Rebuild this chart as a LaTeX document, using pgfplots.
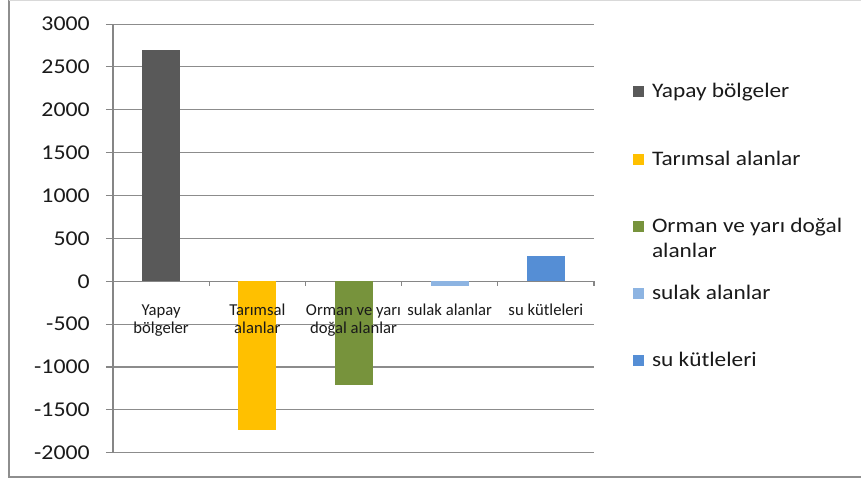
\documentclass[border=0pt]{standalone}
\usepackage{fontspec}
\setmainfont{Carlito}[FakeStretch=1.13]
\newfontfamily\catfont{Carlito}
\usepackage{pgfplots}
\pgfplotsset{compat=1.18}

\definecolor{cBuilt}{HTML}{595959}
\definecolor{cAgri}{HTML}{FFC000}
\definecolor{cForest}{HTML}{77933C}
\definecolor{cWet}{HTML}{8DB4E2}
\definecolor{cWater}{HTML}{558ED5}
\definecolor{gridgray}{HTML}{8C8C8C}
\definecolor{axisgray}{HTML}{868686}
\definecolor{txt}{HTML}{1A1A1A}
\definecolor{framegray}{HTML}{8E8E8E}

\begin{document}
\begin{tikzpicture}
\useasboundingbox (0,0) rectangle (645.75pt,360.75pt);
\draw[framegray, line width=1pt] (6.75pt,360.75pt) -- (6.75pt,3pt) -- (645.75pt,3pt);
\draw[gray!30, line width=0.6pt] (6.75pt,360.45pt) -- (645.75pt,360.45pt);
\begin{axis}[
  at={(84.75pt,21.2pt)}, anchor=south west,
  scale only axis, width=360.75pt, height=321.5pt,
  xmin=-0.5, xmax=4.5, ymin=-2000, ymax=3000,
  axis x line=middle, axis y line=left,
  axis line style={-, draw=axisgray, line width=0.8pt},
  ytick={-2000,-1500,...,3000},
  ymajorgrids, grid style={gridgray, line width=0.8pt},
  y tick style={draw=axisgray, line width=0.8pt},
  tick align=outside, major tick length=5.25pt,
  yticklabel style={font=\fontsize{15.8}{18}\selectfont, text=txt, anchor=east, inner sep=0pt, xshift=-12pt},
  /pgf/number format/1000 sep={}, /pgf/number format/assume math mode=true,
  scaled y ticks=false,
  xtick={0,...,4}, x tick style={draw=none}, xticklabels={},
  clip=false,
  ybar, bar width=28.5pt, bar shift=0pt,
  legend image code/.code={\fill[#1, draw=none] (0pt,0.4pt) rectangle (8.25pt,8.6pt);},
  legend cell align=left,
  legend style={at={(axis description cs:1.0811,0.855)}, anchor=north west,
    draw=none, fill=none, inner sep=0pt, row sep=41.3pt,
    font=\fontsize{15.5}{18.75}\selectfont, text=txt,
    nodes={inner sep=0pt, text height=0pt, text depth=0pt},
    /tikz/every odd column/.append style={column sep=5.8pt}},
]
\addplot[fill=cBuilt, draw=none] coordinates {(0,2700)};
\addlegendentry{Yapay bölgeler}
\addplot[fill=cAgri, draw=none] coordinates {(1,-1735)};
\addlegendentry{Tarımsal alanlar}
\addplot[fill=cForest, draw=none] coordinates {(2,-1215)};
\addlegendentry{\vtop{\hbox{Orman ve yarı doğal}\hbox{alanlar}}}
\addplot[fill=cWet, draw=none] coordinates {(3,-55)};
\addlegendentry{sulak alanlar}
\addplot[fill=cWater, draw=none] coordinates {(4,300)};
\addlegendentry{su kütleleri}
% separators between the categories on the zero line
\pgfplotsinvokeforeach{0.5,1.5,2.5,3.5,4.5}{
  \draw[axisgray, line width=0.8pt] (axis cs:#1,0) -- ++(0pt,-3.75pt);
}
% category names, written over the bars
\begin{scope}[every node/.style={font=\catfont\fontsize{12.5}{13.7}\selectfont, text=txt, anchor=base, inner sep=0pt, yshift=-25.35pt}]
\node at (axis cs:0,0) {\begin{tabular}[t]{@{}c@{}}Yapay\\bölgeler\end{tabular}};
\node at (axis cs:1,0) {\begin{tabular}[t]{@{}c@{}}Tarımsal\\alanlar\end{tabular}};
\node at (axis cs:2,0) {\begin{tabular}[t]{@{}c@{}}Orman ve yarı\\doğal alanlar\end{tabular}};
\node at (axis cs:3,0) {sulak alanlar};
\node at (axis cs:4,0) {su kütleleri};
\end{scope}
\end{axis}
\end{tikzpicture}
\end{document}
